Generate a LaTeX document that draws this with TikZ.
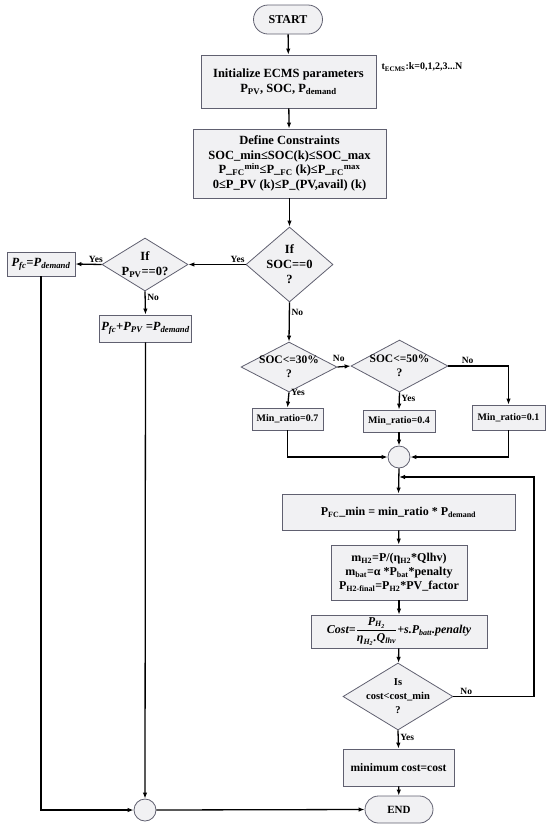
\documentclass[tikz,border=0pt]{standalone}
\usepackage{amsmath}
\usepackage{fontspec}
\setmainfont{Liberation Serif}
\usetikzlibrary{arrows.meta,shapes.geometric,shapes.misc}
\definecolor{boxfill}{RGB}{241,241,243}
\definecolor{boxline}{RGB}{96,96,112}
\newcommand{\fsz}[2]{\fontsize{#1}{#2}\selectfont}
\tikzset{
  flow/.style={line width=1.3pt, -{Latex[length=6pt,width=4.5pt]}},
  link/.style={line width=1.3pt},
  term/.style={rounded rectangle, draw=boxline, fill=boxfill, line width=0.8pt,
               inner sep=0pt, font=\bfseries\fsz{12}{14}},
  pbox/.style={rectangle, draw=boxline, fill=boxfill, line width=0.8pt,
               align=center, inner sep=0pt, font=\bfseries\fsz{12.5}{15}},
  dec/.style={diamond, draw=boxline, fill=boxfill, line width=0.8pt, align=center,
              inner xsep=-14pt, inner ysep=-9pt, font=\bfseries\fsz{12.5}{15}},
  jn/.style={circle, draw=boxline, fill=boxfill, line width=0.8pt,
             minimum size=22pt, inner sep=0pt},
  lbl/.style={font=\bfseries\fsz{9.5}{11}, inner sep=1.5pt},
}

\begin{document}
\begin{tikzpicture}[x=1pt,y=-1pt]
  \useasboundingbox (0,0) rectangle (550,828);
  % ====== main column ======
  \node[term, minimum width=69pt, minimum height=29pt] (start) at (288,19.5) {START};
  \node[pbox, minimum width=175pt, minimum height=53pt] (init) at (288.5,81.5)
       {Initialize ECMS parameters\\P\textsubscript{PV}, SOC, P\textsubscript{demand}};
  \node[anchor=west, font=\bfseries\fsz{10}{12}] (tecms) at (378,67)
       {t\textsubscript{ECMS}:k=0,1,2,3...N};
  \node[pbox, minimum width=193pt, minimum height=69pt, font=\bfseries\fsz{12.5}{14.5}] (cons) at (289.5,163.5)
       {Define Constraints\\SOC\_min≤SOC(k)≤SOC\_max\\
        P\_\textsubscript{FC}\textsuperscript{min}≤P\_\textsubscript{FC} (k)≤P\_\textsubscript{FC}\textsuperscript{max}\\
        0≤P\_PV (k)≤P\_(PV,avail) (k)};
  \node[dec, minimum width=87pt, minimum height=75pt] (soc0) at (289.5,264.5) {If\\SOC==0\\?};
  % ====== left branch ======
  \node[dec, minimum width=86pt, minimum height=53pt] (ppv) at (145,264.5) {If\\P\textsubscript{PV}==0?};
  \node[pbox, minimum width=68pt, minimum height=24pt, font=\bfseries\itshape\fsz{12.5}{15}] (pfc) at (41,264)
       {P\textsubscript{fc}=P\textsubscript{demand}};
  \node[pbox, minimum width=92pt, minimum height=27pt, font=\bfseries\itshape\fsz{12.5}{15}] (pfcpv) at (145.5,328.5)
       {P\textsubscript{fc}+P\textsubscript{PV} =P\textsubscript{demand}};
  \node[jn] (mrgl) at (145,810) {};
  % ====== SOC levels ======
  \node[dec, minimum width=96pt, minimum height=50pt, font=\bfseries\fsz{11.5}{14}] (soc30) at (289,367) {SOC<=30\%\\?};
  \node[dec, minimum width=97pt, minimum height=52pt, font=\bfseries\fsz{11.5}{14}] (soc50) at (399.5,366) {SOC<=50\%\\?};
  \node[pbox, minimum width=71pt, minimum height=22pt, font=\bfseries\fsz{10}{12}] (r7) at (287.5,419) {Min\_ratio=0.7};
  \node[pbox, minimum width=72pt, minimum height=22pt, font=\bfseries\fsz{10}{12}] (r4) at (399,421) {Min\_ratio=0.4};
  \node[pbox, minimum width=73pt, minimum height=25pt, font=\bfseries\fsz{10}{12}] (r1) at (508.5,417.5) {Min\_ratio=0.1};
  \node[jn] (mrg) at (399,457) {};
  % ====== cost loop ======
  \node[pbox, minimum width=233pt, minimum height=36pt, font=\bfseries\fsz{12}{14}] (pfcmin) at (398.5,512)
       {P\textsubscript{FC}\_min = min\_ratio * P\textsubscript{demand}};
  \node[pbox, minimum width=136pt, minimum height=55pt, font=\bfseries\fsz{12}{14}] (mh2) at (399,572.5)
       {m\textsubscript{H2}=P/(η\textsubscript{H2}*Qlhv)\\
        m\textsubscript{bat}=α *P\textsubscript{bat}*penalty\\
        P\textsubscript{H2-final}=P\textsubscript{H2}*PV\_factor};
  \node[pbox, minimum width=176pt, minimum height=33pt, font=\bfseries\itshape\fsz{12}{14}] (cost) at (399,631.5)
       {Cost=$\dfrac{\text{P}_{\text{H}_{\text{2}}}}{\text{η}_{\text{H}_{\text{2}}}\text{.Q}_{\text{lhv}}}$+s.P\textsubscript{batt}.penalty};
  \node[dec, minimum width=110pt, minimum height=67pt, font=\bfseries\fsz{10.5}{14}] (costq) at (398,696.5)
       {Is\\cost<cost\_min\\?};
  \node[pbox, minimum width=111pt, minimum height=37pt, font=\bfseries\fsz{11.5}{14}] (mincost) at (398.5,767.5)
       {minimum cost=cost};
  \node[term, minimum width=68pt, minimum height=27pt, font=\bfseries\fsz{11}{13}] (end) at (399,809.5) {END};
  \coordinate (turn) at (534,477);
  \coordinate (back) at (399,477);
  % ====== connectors ======
  \draw[flow] (start) -- (init);
  \draw[flow] (init) -- (cons);
  \draw[flow] (cons) -- (soc0);
  \draw[flow] (soc0.west) -- node[lbl,above,pos=0.14] {Yes} (ppv.east);
  \draw[flow] (ppv.west) -- node[lbl,above,pos=0.22] {Yes} (pfc.east);
  \draw[flow] (ppv.south) -- node[lbl,right,pos=0.25] {No} (pfcpv.north);
  \draw[flow] (pfc.south) |- (mrgl.west);
  \draw[flow] (pfcpv.south) -- (mrgl.north);
  \draw[flow] (mrgl.east) -- (end.west);
  \draw[flow] (soc0.south) -- node[lbl,right,pos=0.25] {No} (soc30.north);
  \draw[flow] (soc30.east) -- node[lbl,above=3pt,pos=0.1] {No} (soc50.west);
  \draw[flow] (soc50.east) -| node[lbl,above,pos=0.16] {No} (r1.north);
  \draw[flow] (soc30.south) -- node[lbl,right,pos=0.02] {Yes} (r7.north);
  \draw[flow] (soc50.south) -- node[lbl,right,pos=0.35] {Yes} (r4.north);
  \draw[flow] (r7.south) |- (mrg.west);
  \draw[flow] (r1.south) |- (mrg.east);
  \draw[flow] (r4.south) -- (mrg.north);
  \draw[flow] (mrg.south) -- (pfcmin.north);
  \draw[flow] (pfcmin) -- (mh2);
  \draw[flow] (mh2) -- (cost);
  \draw[flow] (cost) -- (costq);
  \draw[flow] (costq.east) -| node[lbl,above,pos=0.08] {No} (turn) -- (back);
  \draw[flow] (costq.south) -- node[lbl,right,pos=0.4] {Yes} (mincost.north);
  \draw[flow] (mincost) -- (end);
\end{tikzpicture}
\end{document}
